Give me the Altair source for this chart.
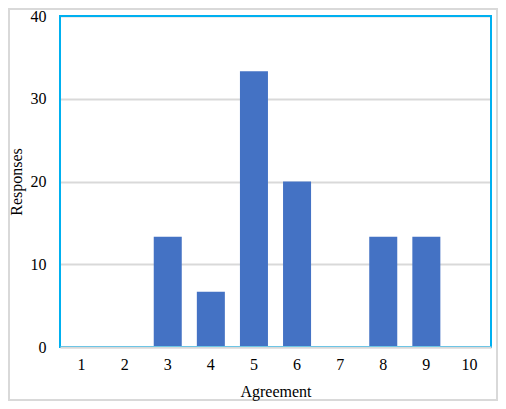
import altair as alt
import pandas as pd

agreement = [1, 2, 3, 4, 5, 6, 7, 8, 9, 10]
responses = [0, 0, 13.33, 6.67, 33.33, 20, 0, 13.33, 13.33, 0]
y_ticks = [0, 10, 20, 30, 40]

df = pd.DataFrame({"Agreement": agreement, "Responses": responses})

W, H = 431, 331
PL, PT, PR, PB = 52, 8, 7, 54
FONT = "Liberation Serif"

bars = alt.Chart(df).mark_bar(color="#4472C4").encode(
    x=alt.X(
        "Agreement:O",
        scale=alt.Scale(paddingInner=0.35, paddingOuter=0.175),
        axis=alt.Axis(
            title="Agreement",
            labelAngle=0,
            ticks=False,
            domain=True,
            domainColor="#d9d9d9",
            domainWidth=2,
            labelPadding=9,
            titlePadding=11,
            labelFont=FONT,
            titleFont=FONT,
            zindex=1,
        ),
    ),
    y=alt.Y(
        "Responses:Q",
        scale=alt.Scale(domain=[0, 40], nice=False),
        axis=alt.Axis(
            title="Responses",
            values=y_ticks,
            ticks=False,
            domain=False,
            grid=True,
            gridColor="#d9d9d9",
            gridWidth=2,
            labelPadding=14,
            titlePadding=6,
            labelFont=FONT,
            titleFont=FONT,
            zindex=0,
        ),
    ),
)

one = pd.DataFrame({"a": [0]})

plot_border = alt.Chart(one).mark_rect(
    fill=None, stroke="#00B0F0", strokeWidth=2, clip=False
).encode(
    x=alt.value(0),
    x2=alt.value(W),
    y=alt.value(0),
    y2=alt.value(H),
)

frame = alt.Chart(one).mark_rect(
    fill=None, stroke="#d9d9d9", strokeWidth=2, clip=False
).encode(
    x=alt.value(-(PL - 1)),
    x2=alt.value(W + PR - 1),
    y=alt.value(-(PT - 1)),
    y2=alt.value(H + PB - 1),
)

chart = (
    alt.layer(bars, plot_border, frame)
    .properties(
        width=W,
        height=H,
        padding={"left": PL, "top": PT, "right": PR, "bottom": PB},
        autosize=alt.AutoSizeParams(type="none"),
        background="white",
    )
    .configure_view(stroke=None)
    .configure_axis(
        labelFont=FONT,
        titleFont=FONT,
        labelFontSize=16,
        titleFontSize=16,
        labelColor="#000000",
        titleColor="#000000",
        titleFontWeight="normal",
    )
)

chart.save("out.html", embed_options={"renderer": "svg", "actions": False})
